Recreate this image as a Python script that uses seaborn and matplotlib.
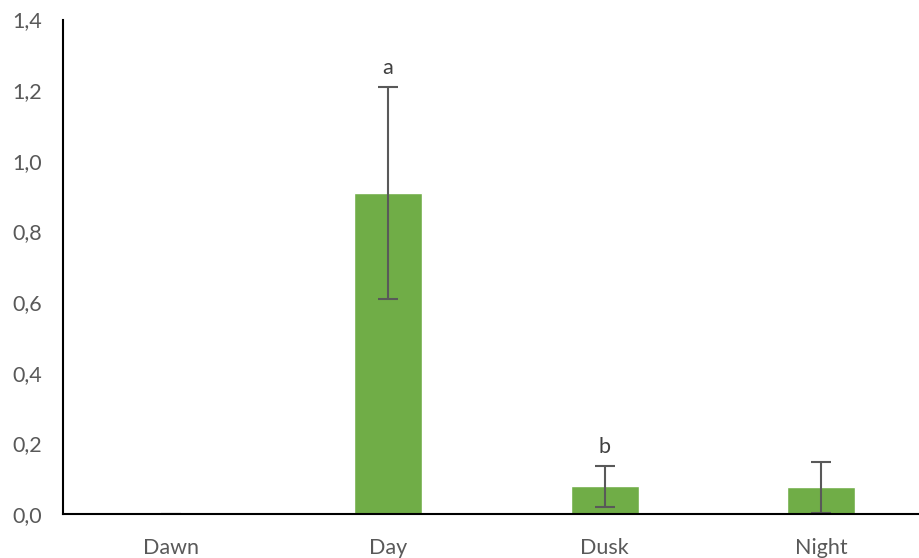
import matplotlib
matplotlib.use("Agg")
import matplotlib.pyplot as plt
import seaborn as sns
import pandas as pd
from matplotlib.ticker import FuncFormatter

periods = ["Dawn", "Day", "Dusk", "Night"]
means = [0.0, 0.91, 0.078, 0.075]
errors = [0.0, 0.30, 0.057, 0.073]
letters = ["", "a", "b", ""]

sns.set_theme(style="white")
plt.rcParams["font.family"] = ["Lato", "DejaVu Sans"]

text_grey = "#595959"
bar_green = "#70AD47"

df = pd.DataFrame({"period": periods, "mean": means})

fig = plt.figure(figsize=(9.19, 5.58), dpi=100)
ax = fig.add_axes([0.0686, 0.079, 0.943, 0.886])

sns.barplot(data=df, x="period", y="mean", color=bar_green, saturation=1,
            width=0.315, ax=ax, errorbar=None)

ax.errorbar(range(len(periods)), means, yerr=errors, fmt="none",
            ecolor=text_grey, elinewidth=1.5, capsize=7, capthick=1.5, zorder=3)

for i, (m, e, lab) in enumerate(zip(means, errors, letters)):
    if lab:
        ax.text(i, m + e + 0.025, lab, ha="center", va="bottom",
                fontsize=15.5, color="#404040")

ax.set_ylim(0, 1.4)
ax.set_xlim(-0.5, 3.5)
ax.set_yticks([0, 0.2, 0.4, 0.6, 0.8, 1.0, 1.2, 1.4])
ax.yaxis.set_major_formatter(FuncFormatter(lambda v, _: f"{v:.1f}".replace(".", ",")))
ax.set_xlabel("")
ax.set_ylabel("")
ax.tick_params(axis="both", length=0, labelsize=15.5, colors=text_grey)
ax.tick_params(axis="y", pad=15)
ax.tick_params(axis="x", pad=17)

for side in ["top", "right"]:
    ax.spines[side].set_visible(False)
for side in ["left", "bottom"]:
    ax.spines[side].set_color("black")
    ax.spines[side].set_linewidth(1.5)
ax.spines["bottom"].set_zorder(4)

fig.savefig("out.png", dpi=100, facecolor="white")
